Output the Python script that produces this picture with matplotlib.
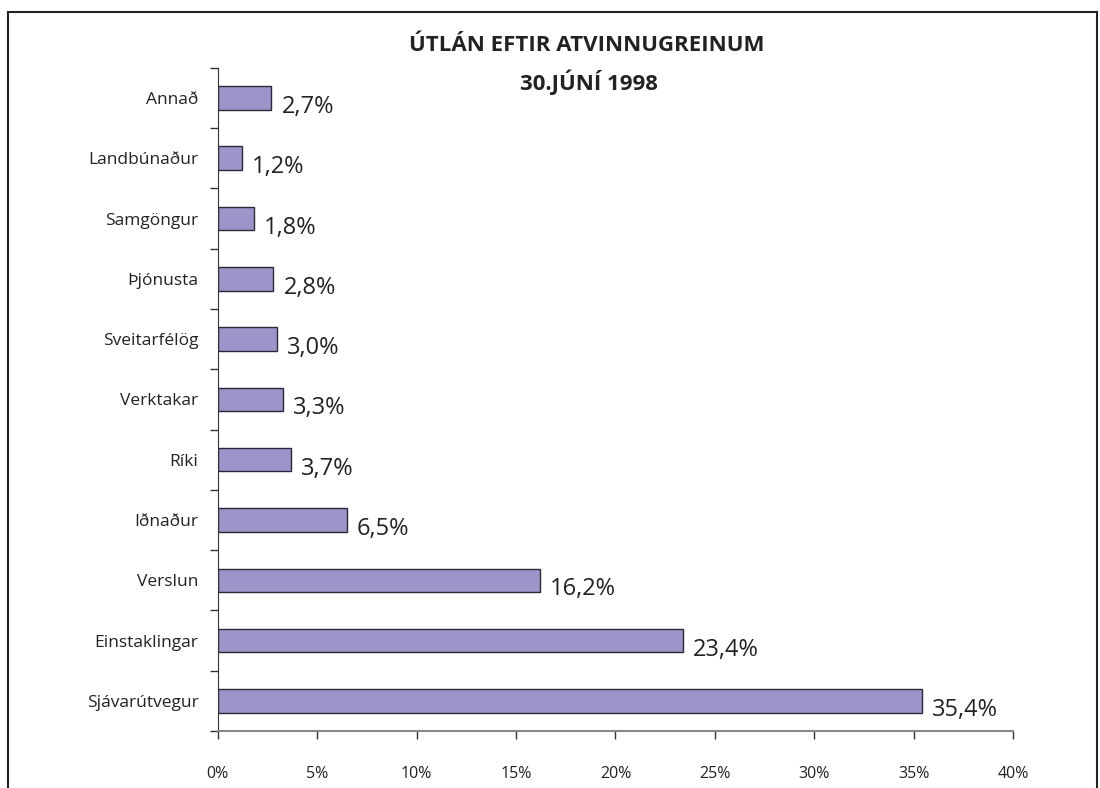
import matplotlib.pyplot as plt
from matplotlib.patches import Rectangle
from matplotlib.ticker import FixedLocator

categories = ['Annað', 'Landbúnaður', 'Samgöngur', 'Þjónusta', 'Sveitarfélög',
              'Verktakar', 'Ríki', 'Iðnaður', 'Verslun', 'Einstaklingar', 'Sjávarútvegur']
values = [2.7, 1.2, 1.8, 2.8, 3.0, 3.3, 3.7, 6.5, 16.2, 23.4, 35.4]
xticks = [0, 5, 10, 15, 20, 25, 30, 35, 40]
title = 'ÚTLÁN EFTIR ATVINNUGREINUM'
subtitle = '30.JÚNÍ 1998'

plt.rcParams['font.family'] = ['Open Sans', 'DejaVu Sans']

fig = plt.figure(figsize=(11, 7.88), dpi=100)
ax = fig.add_axes([0.198, 0.0723, 0.723, 0.8417])

pos = list(range(len(categories)))
ax.barh(pos, values, height=0.39, color='#9b95c9', edgecolor='#2a2a3a', linewidth=1)
ax.set_ylim(len(categories) - 0.5, -0.5)
ax.set_xlim(0, 40)

for y, v in zip(pos, values):
    ax.text(v + 0.5, y + 0.15, f'{v:.1f}%'.replace('.', ','), fontsize=17,
            va='center', ha='left', color='#222222')

ax.set_yticks(pos)
ax.set_yticklabels(categories, fontsize=12.5, color='#222222')
ax.tick_params(axis='y', which='major', length=0, pad=14)
ax.yaxis.set_minor_locator(FixedLocator([p - 0.5 for p in range(len(categories) + 1)]))
ax.tick_params(axis='y', which='minor', length=6, width=1, color='#333333')

ax.set_xticks(xticks)
ax.set_xticklabels([f'{t}%' for t in xticks], fontsize=11.5, color='#222222')
ax.tick_params(axis='x', length=6, width=1, color='#333333', pad=19)

for s in ['top', 'right']:
    ax.spines[s].set_visible(False)
ax.spines['left'].set_color('#333333')
ax.spines['bottom'].set_color('#888888')
ax.spines['bottom'].set_linewidth(1.5)

fig.text(0.533, 0.942, title, ha='center', va='center', fontsize=16, fontweight='bold', color='#222222')
fig.text(0.535, 0.895, subtitle, ha='center', va='center', fontsize=16, fontweight='bold', color='#222222')

fig.patches.append(Rectangle((0.0073, -0.05), 0.9900, 1.035, transform=fig.transFigure,
                             fill=False, edgecolor='#222222', linewidth=1.5))

fig.savefig('out.png', dpi=100)
